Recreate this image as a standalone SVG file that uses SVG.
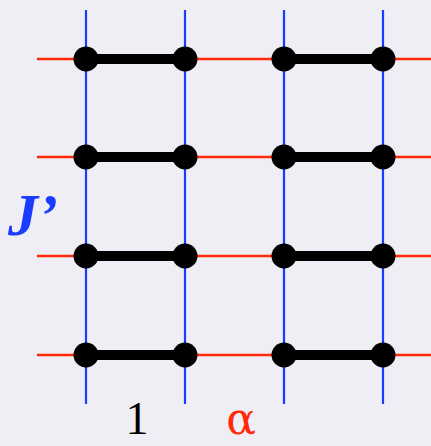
<svg xmlns="http://www.w3.org/2000/svg" width="431" height="446" viewBox="0 0 431 446">
<style>
.v{stroke:#1a3cff;stroke-width:2.2}
.h{stroke:#ff2a0a;stroke-width:2.5}
.bar{stroke:#000;stroke-width:10}
.dot{fill:#000}
.t{font-family:"Liberation Serif",serif}
</style>
<rect width="431" height="446" fill="#efeef5"/>
<g id="connectors">
<line class="h" x1="37" y1="59" x2="431" y2="59"/>
<line class="h" x1="37" y1="157" x2="431" y2="157"/>
<line class="h" x1="37" y1="256" x2="431" y2="256"/>
<line class="h" x1="37" y1="355" x2="431" y2="355"/>
<line class="v" x1="86" y1="10" x2="86" y2="404"/>
<line class="v" x1="185" y1="10" x2="185" y2="404"/>
<line class="v" x1="284" y1="10" x2="284" y2="404"/>
<line class="v" x1="383" y1="10" x2="383" y2="404"/>
<line class="bar" x1="86" y1="59" x2="185" y2="59"/>
<line class="bar" x1="284" y1="59" x2="383" y2="59"/>
<line class="bar" x1="86" y1="157" x2="185" y2="157"/>
<line class="bar" x1="284" y1="157" x2="383" y2="157"/>
<line class="bar" x1="86" y1="256" x2="185" y2="256"/>
<line class="bar" x1="284" y1="256" x2="383" y2="256"/>
<line class="bar" x1="86" y1="355" x2="185" y2="355"/>
<line class="bar" x1="284" y1="355" x2="383" y2="355"/>
</g>
<g id="dots">
<circle class="dot" cx="86" cy="59" r="12.5"/><circle class="dot" cx="185" cy="59" r="12.5"/><circle class="dot" cx="284" cy="59" r="12.5"/><circle class="dot" cx="383" cy="59" r="12.5"/>
<circle class="dot" cx="86" cy="157" r="12.5"/><circle class="dot" cx="185" cy="157" r="12.5"/><circle class="dot" cx="284" cy="157" r="12.5"/><circle class="dot" cx="383" cy="157" r="12.5"/>
<circle class="dot" cx="86" cy="256" r="12.5"/><circle class="dot" cx="185" cy="256" r="12.5"/><circle class="dot" cx="284" cy="256" r="12.5"/><circle class="dot" cx="383" cy="256" r="12.5"/>
<circle class="dot" cx="86" cy="355" r="12.5"/><circle class="dot" cx="185" cy="355" r="12.5"/><circle class="dot" cx="284" cy="355" r="12.5"/><circle class="dot" cx="383" cy="355" r="12.5"/>
</g>
<g id="labels">
<text class="t" x="8" y="235" font-size="60" font-weight="bold" font-style="italic" fill="#1a3cff">J’</text>
<text class="t" x="137" y="434" font-size="46" text-anchor="middle" fill="#000">1</text>
<text x="241" y="434" font-size="44" text-anchor="middle" fill="#ff2a0a" style="font-family:'DejaVu Serif',serif">α</text>
</g>
</svg>
